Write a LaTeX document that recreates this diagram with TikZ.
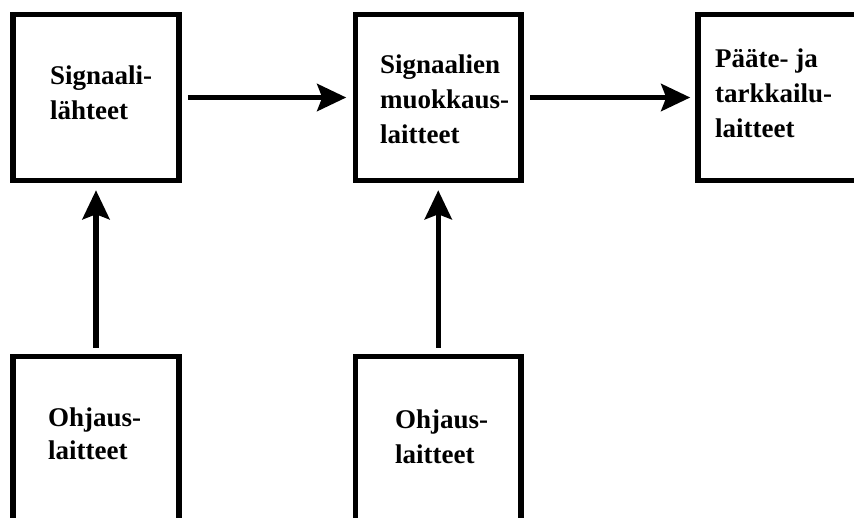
\documentclass[tikz,border=0pt]{standalone}
\usepackage{fontspec}
\setmainfont{Liberation Serif}
\usetikzlibrary{arrows.meta}
\begin{document}
\begin{tikzpicture}[x=1pt,y=1pt,
  box/.style={draw=black,line width=5.5pt,minimum width=166pt,minimum height=166pt,inner sep=0pt},
  lbl/.style={anchor=base west,align=left,inner sep=0pt,font=\fontsize{27pt}{35pt}\selectfont\bfseries},
  arr/.style={line width=5.5pt,-{Stealth[length=29pt,width=27pt,inset=5pt]}}]
\clip (0,0) rectangle (854,-517);
\fill[white] (0,0) rectangle (854,-517);
\node[box] (b1) at (96,-97.5) {};
\node[box,minimum width=165.5pt] (b2) at (438.25,-97.5) {};
\node[box] (b3) at (781,-97.5) {};
\node[box] (c1) at (96,-439.7) {};
\node[box,minimum width=165.5pt] (c2) at (438.25,-439.7) {};
\node[lbl] (t1) at (50,-119) {Signaali-\\lähteet};
\node[lbl] (t2) at (380,-143) {Signaalien\\muokkaus-\\laitteet};
\node[lbl] (t3) at (715,-137.5) {Pääte- ja\\tarkkailu-\\laitteet};
\node[lbl,font=\fontsize{27pt}{33pt}\selectfont\bfseries] (t4) at (48,-459.5) {Ohjaus-\\laitteet};
\node[lbl] (t5) at (395,-463) {Ohjaus-\\laitteet};
\draw[arr,shorten <=6pt,shorten >=6.5pt] (b1.east) -- (b2.west);
\draw[arr,shorten <=6.5pt,shorten >=5pt] (b2.east) -- (b3.west);
\draw[arr,shorten <=6pt,shorten >=7pt] (c1.north) -- (b1.south);
\draw[arr,shorten <=6pt,shorten >=7pt] (c2.north) -- (b2.south);
\end{tikzpicture}
\end{document}
